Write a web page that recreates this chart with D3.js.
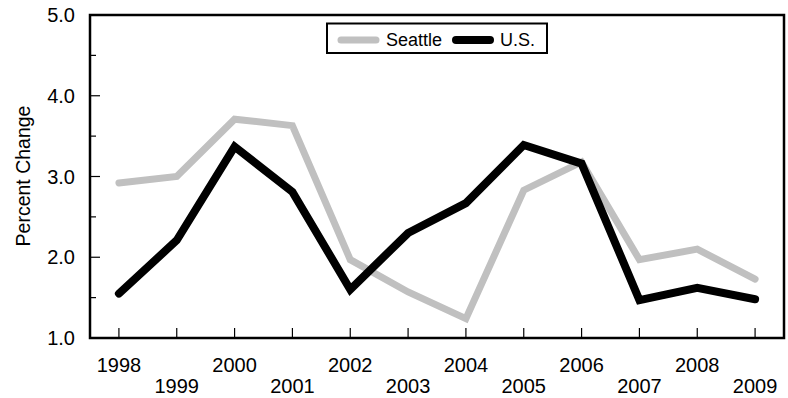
<!DOCTYPE html>
<html><head><meta charset="utf-8">
<script src="https://cdn.jsdelivr.net/npm/d3@7"></script>
<style>body{margin:0;background:#fff}svg{display:block}text{font-family:Arial,"Liberation Sans",sans-serif;fill:#000}</style>
</head><body><svg id="c" width="788" height="398"></svg>
<script>
const years = ["1998","1999","2000","2001","2002","2003","2004","2005","2006","2007","2008","2009"];
const seattle = [2.92,3.00,3.71,3.63,1.97,1.57,1.24,2.83,3.18,1.97,2.10,1.73];
const us = [1.55,2.21,3.37,2.81,1.60,2.30,2.67,3.39,3.16,1.47,1.62,1.48];
const yTicks = [1.0,2.0,3.0,4.0,5.0];
const yMinor = [1.5,2.5,3.5,4.5];

const svg = d3.select("#c");
const L=90,R=784,T=15,B=338;
const x = d3.scaleBand().domain(years).range([L,R]);
const y = d3.scaleLinear().domain([1,5]).range([B,T]);
const cx = d => x(d)+x.bandwidth()/2;

// y ticks
svg.selectAll(".ymaj").data(yTicks).join("line")
  .attr("x1",L).attr("x2",L+10).attr("y1",d=>y(d)).attr("y2",d=>y(d))
  .attr("stroke","#000").attr("stroke-width",1.2);
svg.selectAll(".ymin").data(yMinor).join("line")
  .attr("x1",L).attr("x2",L+6).attr("y1",d=>y(d)).attr("y2",d=>y(d))
  .attr("stroke","#000").attr("stroke-width",1.2);
svg.selectAll(".ylab").data(yTicks).join("text")
  .attr("x",75).attr("y",d=>y(d)).attr("dy","0.35em").attr("text-anchor","end")
  .attr("font-size",20).text(d=>d.toFixed(1));

// x ticks
svg.selectAll(".xt").data(years).join("line")
  .attr("x1",d=>cx(d)).attr("x2",d=>cx(d)).attr("y1",B).attr("y2",B-10)
  .attr("stroke","#000").attr("stroke-width",1.2);
svg.selectAll(".xlab").data(years).join("text")
  .attr("x",d=>cx(d)).attr("y",(d,i)=>i%2===0?372:393).attr("text-anchor","middle")
  .attr("font-size",20).text(d=>d);

svg.append("text").attr("transform",`translate(30,176) rotate(-90)`)
  .attr("text-anchor","middle").attr("font-size",19.5).text("Percent Change");

const line = d3.line().x((d,i)=>cx(years[i])).y(d=>y(d)).curve(d3.curveLinear);
svg.append("path").attr("d",line(seattle)).attr("fill","none").attr("stroke","#c0c0c0")
  .attr("stroke-width",7).attr("stroke-linecap","round").attr("stroke-linejoin","miter");
svg.append("path").attr("d",line(us)).attr("fill","none").attr("stroke","#000")
  .attr("stroke-width",8).attr("stroke-linecap","round").attr("stroke-linejoin","miter");

// frame
svg.append("rect").attr("x",L).attr("y",T).attr("width",R-L).attr("height",B-T)
  .attr("fill","none").attr("stroke","#000").attr("stroke-width",2.5);

// legend
const lg = svg.append("g");
lg.append("rect").attr("x",327).attr("y",23.5).attr("width",220).attr("height",29.5)
  .attr("fill","#fff").attr("stroke","#000").attr("stroke-width",2);
lg.append("line").attr("x1",341).attr("x2",376).attr("y1",40).attr("y2",40)
  .attr("stroke","#c0c0c0").attr("stroke-width",7).attr("stroke-linecap","round");
lg.append("text").attr("x",386).attr("y",40).attr("dy","0.35em").attr("font-size",18).text("Seattle");
lg.append("line").attr("x1",456).attr("x2",490).attr("y1",40).attr("y2",40)
  .attr("stroke","#000").attr("stroke-width",8).attr("stroke-linecap","round");
lg.append("text").attr("x",500).attr("y",40).attr("dy","0.35em").attr("font-size",18).text("U.S.");
</script></body></html>
